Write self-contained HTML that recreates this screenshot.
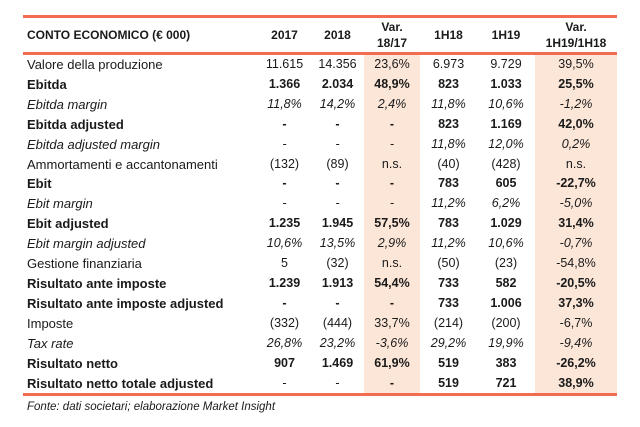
<!DOCTYPE html>
<html><head><meta charset="utf-8"><style>
body{margin:0;background:#fff;width:640px;height:427px;overflow:hidden;font-family:"Liberation Sans",sans-serif;color:#1a1a1a}
table{position:absolute;left:23px;top:15px;border-collapse:collapse;table-layout:fixed;width:594px;border-top:3px solid #f26c52;border-bottom:3px solid #f26c52}
th{font-size:12px;font-weight:bold;height:34px;padding:0;text-align:center;line-height:16px;border-bottom:3px solid #f26c52}
th.l{text-align:left;padding-left:4px}
td{height:19.9px;line-height:19.9px;padding:0;font-size:12.5px;text-align:center;white-space:nowrap}
td.l{text-align:left;padding-left:4px;font-size:13px}
tr.b td{font-weight:bold}
tr.i td{font-style:italic}
td.s{background:#fce6d8}
.foot{position:absolute;left:27px;top:401px;font-size:11.5px;font-style:italic}
</style></head><body>
<table>
<colgroup><col style="width:235px"><col style="width:53px"><col style="width:53px"><col style="width:56px"><col style="width:57px"><col style="width:58px"><col style="width:82px"></colgroup>
<tr><th class="l">CONTO ECONOMICO (€ 000)</th><th>2017</th><th>2018</th><th>Var.<br>18/17</th><th>1H18</th><th>1H19</th><th>Var.<br>1H19/1H18</th></tr>
<tr><td class="l">Valore della produzione</td><td>11.615</td><td>14.356</td><td class="s">23,6%</td><td>6.973</td><td>9.729</td><td class="s">39,5%</td></tr>
<tr class="b"><td class="l">Ebitda</td><td>1.366</td><td>2.034</td><td class="s">48,9%</td><td>823</td><td>1.033</td><td class="s">25,5%</td></tr>
<tr class="i"><td class="l">Ebitda margin</td><td>11,8%</td><td>14,2%</td><td class="s">2,4%</td><td>11,8%</td><td>10,6%</td><td class="s">-1,2%</td></tr>
<tr class="b"><td class="l">Ebitda adjusted</td><td>-</td><td>-</td><td class="s">-</td><td>823</td><td>1.169</td><td class="s">42,0%</td></tr>
<tr class="i"><td class="l">Ebitda adjusted margin</td><td>-</td><td>-</td><td class="s">-</td><td>11,8%</td><td>12,0%</td><td class="s">0,2%</td></tr>
<tr><td class="l">Ammortamenti e accantonamenti</td><td>(132)</td><td>(89)</td><td class="s">n.s.</td><td>(40)</td><td>(428)</td><td class="s">n.s.</td></tr>
<tr class="b"><td class="l">Ebit</td><td>-</td><td>-</td><td class="s">-</td><td>783</td><td>605</td><td class="s">-22,7%</td></tr>
<tr class="i"><td class="l">Ebit margin</td><td>-</td><td>-</td><td class="s">-</td><td>11,2%</td><td>6,2%</td><td class="s">-5,0%</td></tr>
<tr class="b"><td class="l">Ebit adjusted</td><td>1.235</td><td>1.945</td><td class="s">57,5%</td><td>783</td><td>1.029</td><td class="s">31,4%</td></tr>
<tr class="i"><td class="l">Ebit margin adjusted</td><td>10,6%</td><td>13,5%</td><td class="s">2,9%</td><td>11,2%</td><td>10,6%</td><td class="s">-0,7%</td></tr>
<tr><td class="l">Gestione finanziaria</td><td>5</td><td>(32)</td><td class="s">n.s.</td><td>(50)</td><td>(23)</td><td class="s">-54,8%</td></tr>
<tr class="b"><td class="l">Risultato ante imposte</td><td>1.239</td><td>1.913</td><td class="s">54,4%</td><td>733</td><td>582</td><td class="s">-20,5%</td></tr>
<tr class="b"><td class="l">Risultato ante imposte adjusted</td><td>-</td><td>-</td><td class="s">-</td><td>733</td><td>1.006</td><td class="s">37,3%</td></tr>
<tr><td class="l">Imposte</td><td>(332)</td><td>(444)</td><td class="s">33,7%</td><td>(214)</td><td>(200)</td><td class="s">-6,7%</td></tr>
<tr class="i"><td class="l">Tax rate</td><td>26,8%</td><td>23,2%</td><td class="s">-3,6%</td><td>29,2%</td><td>19,9%</td><td class="s">-9,4%</td></tr>
<tr class="b"><td class="l">Risultato netto</td><td>907</td><td>1.469</td><td class="s">61,9%</td><td>519</td><td>383</td><td class="s">-26,2%</td></tr>
<tr class="b"><td class="l">Risultato netto totale adjusted</td><td style="font-weight:normal">-</td><td style="font-weight:normal">-</td><td class="s">-</td><td>519</td><td>721</td><td class="s">38,9%</td></tr>
</table>
<div class="foot">Fonte: dati societari; elaborazione Market Insight</div>
</body></html>
